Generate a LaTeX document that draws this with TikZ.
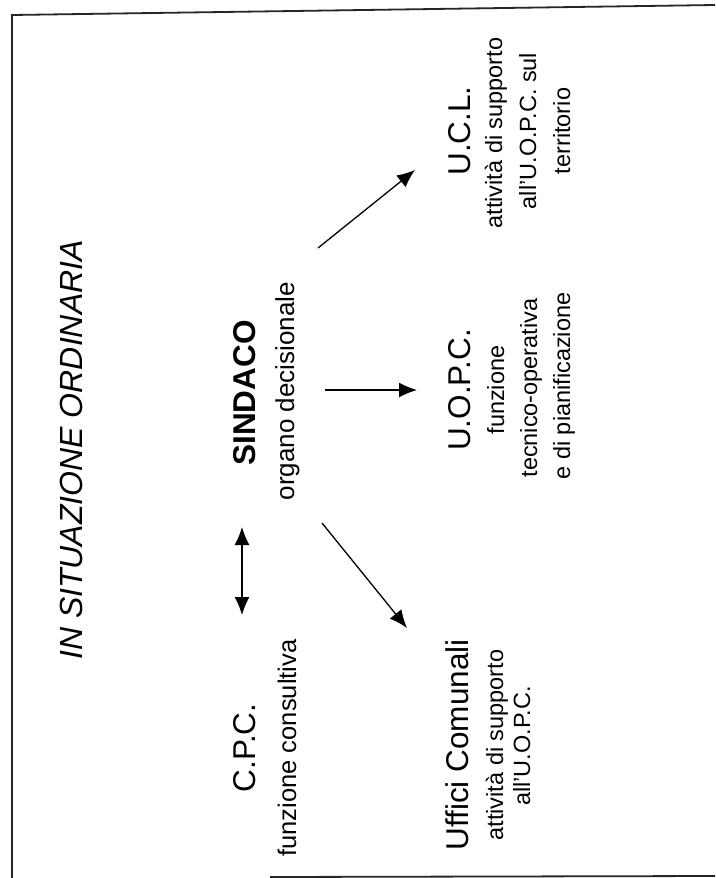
\documentclass[tikz,border=0pt]{standalone}
\usepackage{fontspec}
\setmainfont{Liberation Sans}
\usetikzlibrary{arrows.meta}
\begin{document}
\begin{tikzpicture}[x=1pt,y=-1pt,
  txt/.style={inner sep=0pt, rotate=90, anchor=base},
  big/.style={txt, font=\fontsize{31.5}{36}\selectfont},
  sub/.style={txt, font=\fontsize{23.5}{28}\selectfont},
  frameline/.style={line width=1.8pt, black!85},
  arr/.style={line width=1.3pt, -{Latex[length=18pt,width=15pt]}},
  darr/.style={line width=1.3pt, {Latex[length=18pt,width=15pt]}-{Latex[length=18pt,width=15pt]}}]
\useasboundingbox (0,0) rectangle (715,878);
\fill[white] (0,0) rectangle (715,878);
% frame
\coordinate (f-tr) at (715,5);
\coordinate (f-tl) at (12,15);
\coordinate (f-bl) at (12,878);
\coordinate (f-b1) at (270,877);
\coordinate (f-b2) at (715,876);
\draw[frameline] (f-tr) -- (f-tl) -- (f-bl);
\draw[frameline] (f-b1) -- (f-b2);
% title
\node[big, font=\fontsize{32}{36}\selectfont\itshape] (title) at (82,450) {IN SITUAZIONE ORDINARIA};
% SINDACO
\node[big, font=\fontsize{31.5}{36}\selectfont\bfseries] (sind) at (255,393) {SINDACO};
\node[sub, font=\fontsize{26}{30}\selectfont] (sind-s) at (294,391) {organo decisionale};
% C.P.C.
\node[big] (cpc) at (255,748) {C.P.C.};
\node[sub, font=\fontsize{25.5}{30}\selectfont] (cpc-s) at (296,748) {funzione consultiva};
% U.O.P.C.
\node[big] (uopc) at (470,390) {U.O.P.C.};
\node[sub] (uopc-s1) at (504,390) {funzione};
\node[sub] (uopc-s2) at (537,388) {tecnico-operativa};
\node[sub] (uopc-s3) at (570,386) {e di pianificazione};
% U.C.L.
\node[big] (ucl) at (470,131) {U.C.L.};
\node[sub] (ucl-s1) at (502,133) {attività di supporto};
\node[sub] (ucl-s2) at (536,131) {all'U.O.P.C. sul};
\node[sub] (ucl-s3) at (570,131) {territorio};
% Uffici Comunali
\node[big] (uff) at (468,745) {Uffici Comunali};
\node[sub] (uff-s1) at (503,745) {attività di supporto};
\node[sub] (uff-s2) at (530,746) {all'U.O.P.C.};
% connector ends
\coordinate (a1s) at (318,248);
\coordinate (a1e) at (415,170);
\coordinate (a2s) at (325,390);
\coordinate (a2e) at (417,390);
\coordinate (a3s) at (322,523);
\coordinate (a3e) at (407,628);
\coordinate (a4s) at (242,527);
\coordinate (a4e) at (242,615);
\draw[arr] (a1s) -- (a1e);
\draw[arr] (a2s) -- (a2e);
\draw[arr] (a3s) -- (a3e);
\draw[darr] (a4s) -- (a4e);
\end{tikzpicture}
\end{document}
